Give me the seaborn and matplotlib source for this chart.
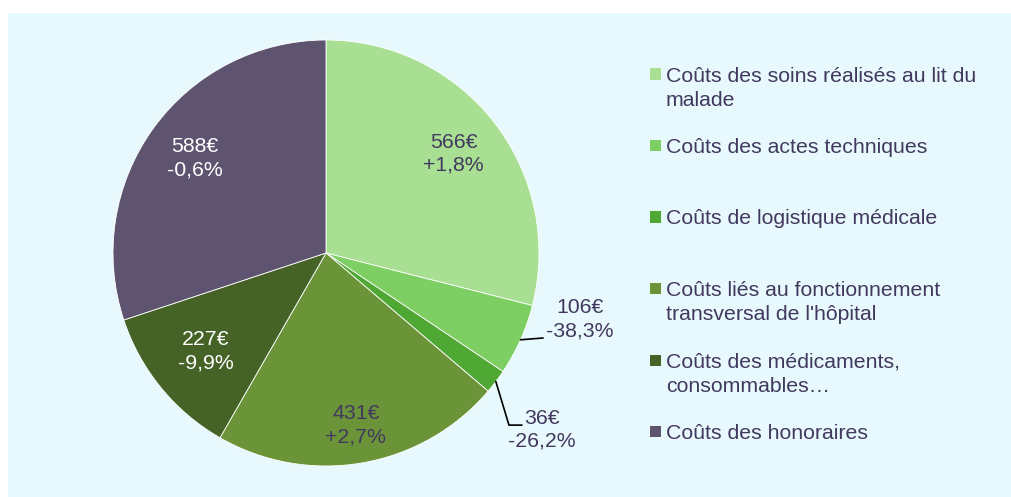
import matplotlib
matplotlib.use("Agg")
import matplotlib.pyplot as plt
import seaborn as sns
import numpy as np
from matplotlib.patches import Rectangle

# Data
categories = [
    "Coûts des soins réalisés au lit du\nmalade",
    "Coûts des actes techniques",
    "Coûts de logistique médicale",
    "Coûts liés au fonctionnement\ntransversal de l'hôpital",
    "Coûts des médicaments,\nconsommables…",
    "Coûts des honoraires",
]
amounts = [566, 106, 36, 431, 227, 588]
changes = ["+1,8%", "-38,3%", "-26,2%", "+2,7%", "-9,9%", "-0,6%"]

colors = ["#A8DF92", "#7DCF63", "#4FA833", "#6B9439", "#456227", "#5E5470"]
label_colors = ["#41395E", "#41395E", "#41395E", "#41395E", "white", "white"]
label_dist = [0.76, None, None, 0.82, 0.73, 0.76]
text_color = "#41395E"

sns.set_theme(style="white")
plt.rcParams["font.family"] = ["Liberation Sans", "DejaVu Sans"]

W, H = 1012, 497
fig = plt.figure(figsize=(W / 100, H / 100), dpi=100)
fig.patch.set_facecolor("white")
bg = Rectangle((8 / W, 0), 1 - 8 / W, 1 - 13 / H, transform=fig.transFigure,
               facecolor="#E8F9FE", edgecolor="none", zorder=-5)
fig.patches.append(bg)

cx, cy, R = 326, 253, 213
ax = fig.add_axes([(cx - R) / W, (H - cy - R) / H, 2 * R / W, 2 * R / H])
ax.set_zorder(2)
ax.set_facecolor("none")
wedges, _ = ax.pie(amounts, colors=colors, startangle=90, counterclock=False,
                   radius=1, wedgeprops=dict(edgecolor="white", linewidth=0.6))
ax.set_xlim(-1, 1)
ax.set_ylim(-1, 1)
ax.axis("off")

fs = 15.3
ls = 1.28
for i, w in enumerate(wedges):
    lab = f"{amounts[i]}€\n{changes[i]}"
    if label_dist[i] is not None:
        ang = np.deg2rad((w.theta1 + w.theta2) / 2)
        d = label_dist[i]
        ax.text(d * np.cos(ang), d * np.sin(ang), lab, ha="center", va="center",
                fontsize=fs, color=label_colors[i], linespacing=ls)

# outer labels with leader lines
ang = np.deg2rad((wedges[1].theta1 + wedges[1].theta2) / 2)
ax.plot([np.cos(ang), 1.019], [np.sin(ang), -0.399], color="black", lw=1.2, clip_on=False)
ax.text(1.192, -0.31, f"{amounts[1]}€\n{changes[1]}", ha="center", va="center",
        fontsize=fs, color=text_color, linespacing=ls)

ang = np.deg2rad((wedges[2].theta1 + wedges[2].theta2) / 2)
ax.plot([np.cos(ang), 0.859, 0.92], [np.sin(ang), -0.808, -0.808], color="black", lw=1.2,
        clip_on=False)
ax.text(1.014, -0.83, f"{amounts[2]}€\n{changes[2]}", ha="center", va="center",
        fontsize=fs, color=text_color, linespacing=ls)

# legend
y0, dy, line_h = 74, 71.5, 24.5
for i, (cat, col) in enumerate(zip(categories, colors)):
    y = y0 + i * dy
    fig.patches.append(Rectangle((650 / W, 1 - (y + 5.5) / H), 11 / W, 11 / H,
                                 transform=fig.transFigure, facecolor=col,
                                 edgecolor="none", zorder=2))
    for k, line in enumerate(cat.split("\n")):
        fig.text(666 / W, 1 - (y + 7.5 + k * line_h) / H, line, ha="left", va="baseline",
                 fontsize=fs, color=text_color)

fig.savefig("out.png", dpi=100)
